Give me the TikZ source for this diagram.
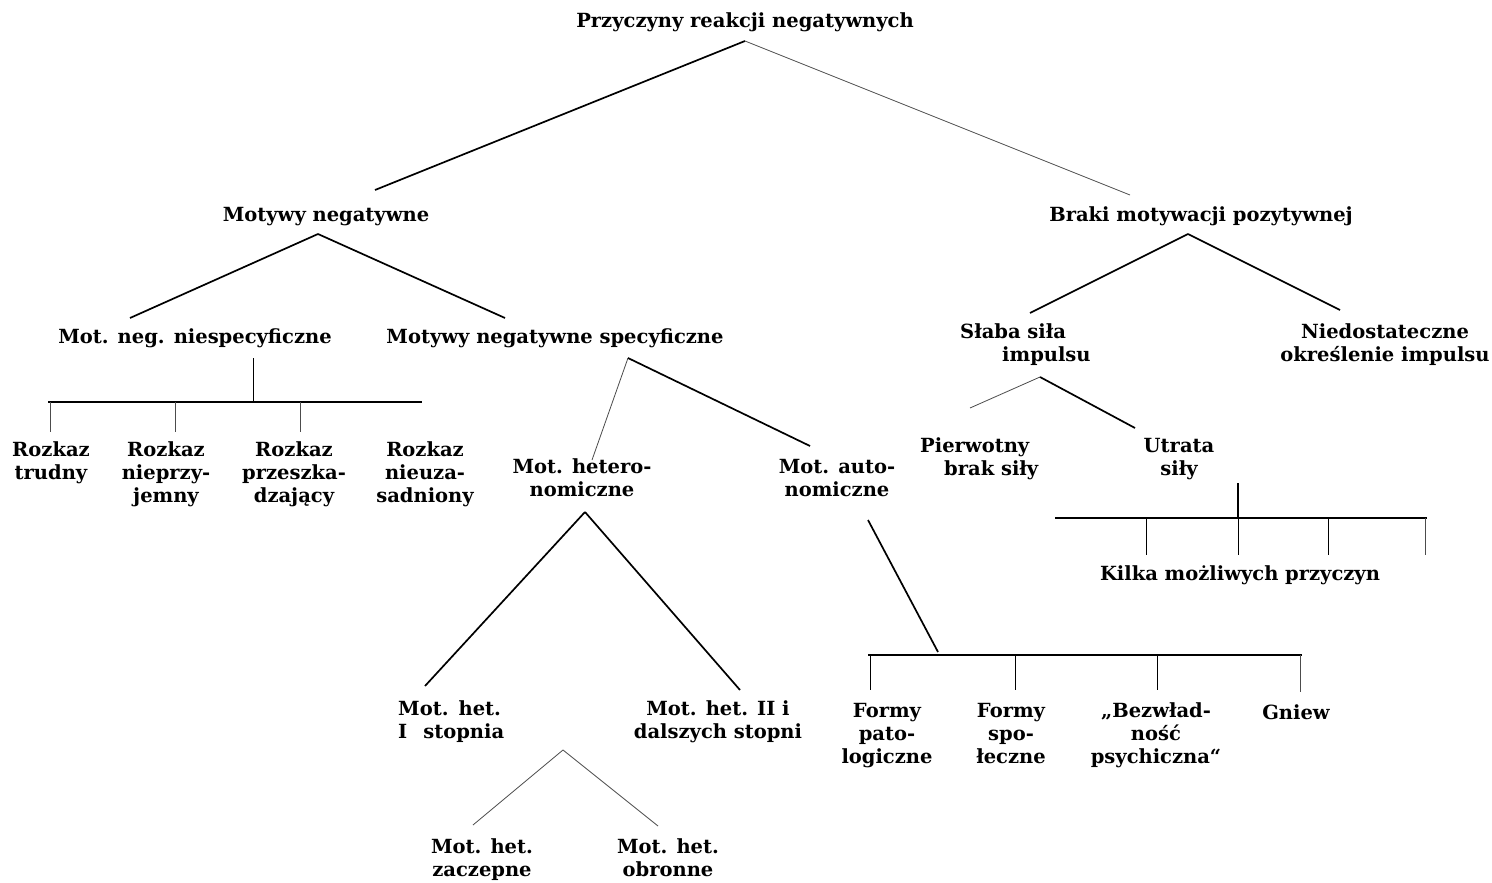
\documentclass[tikz,border=0pt]{standalone}
\usepackage{fontspec}
\setmainfont{DejaVu Serif}
\begin{document}
\begin{tikzpicture}[x=1pt,y=-1pt,
  lbl/.style={font=\bfseries\fontsize{19.5}{23}\selectfont, align=center, inner sep=0pt,
    anchor=north, yshift=16.1pt, execute at begin node=\strut},
  lbll/.style={lbl, align=left, anchor=north west},
  br/.style={line width=1.7pt},
  brt/.style={line width=0.8pt, draw=black!70},
  tick/.style={line width=1pt}]
\useasboundingbox (0,0) rectangle (1492,883);
\fill[white] (0,0) rectangle (1492,883);
% texts (positioned at first-line baseline)
\node[lbl] (root) at (745,27) {Przyczyny reakcji negatywnych};
\node[lbl] (mn) at (326,221) {Motywy negatywne};
\node[lbl] (bm) at (1201,221) {Braki motywacji pozytywnej};
\node[lbl] (mnn) at (195,343) {Mot. neg. niespecyficzne};
\node[lbl] (mns) at (555,343) {Motywy negatywne specyficzne};
\node[lbl] (r1) at (51,458) {Rozkaz\\trudny};
\node[lbl] (r2) at (166,458) {Rozkaz\\nieprzy-\\jemny};
\node[lbl] (r3) at (294,458) {Rozkaz\\przeszka-\\dzający};
\node[lbl] (r4) at (425,458) {Rozkaz\\nieuza-\\sadniony};
\node[lbl] (mh) at (582,475) {Mot. hetero-\\nomiczne};
\node[lbl] (ma) at (837,475) {Mot. auto-\\nomiczne};
\node[lbll] (mh1) at (398,717) {Mot.\hspace{10pt}het.\\I\hspace{16pt}stopnia};
\node[lbl] (mh2) at (718,717) {Mot. het. II i\\dalszych stopni};
\node[lbl] (mhz) at (482,855) {Mot. het.\\zaczepne};
\node[lbl] (mho) at (668,855) {Mot. het.\\obronne};
\node[lbl] (f1) at (887,719) {Formy\\pato-\\logiczne};
\node[lbl] (f2) at (1011,719) {Formy\\spo-\\łeczne};
\node[lbl] (f3) at (1156,719) {„Bezwład-\\ność\\psychiczna“};
\node[lbl] (f4) at (1296,719) {Gniew};
\node[lbll] (ss) at (960,340) {Słaba siła\\\hspace*{42pt}impulsu};
\node[lbl] (nd) at (1385,340) {Niedostateczne\\określenie impulsu};
\node[lbll] (pb) at (920,454) {Pierwotny\\\hspace*{24pt}brak siły};
\node[lbl] (us) at (1179,454) {Utrata\\siły};
\node[lbl] (kp) at (1240,580) {Kilka możliwych przyczyn};
% connector end points
\coordinate (root-s) at (745,41);
\coordinate (mn-n) at (375,190);
\coordinate (bm-n) at (1130,195);
\coordinate (mn-s) at (318,234);
\coordinate (mnn-n) at (130,318);
\coordinate (mns-n) at (505,318);
\coordinate (mnn-s) at (253,358);
\coordinate (mnn-j) at (253,402);
\coordinate (rl) at (48,402);
\coordinate (rr) at (422,402);
\coordinate (r1-n) at (50,432);
\coordinate (r2-n) at (175,432);
\coordinate (r3-n) at (300,432);
\coordinate (mns-s) at (628,358);
\coordinate (mh-n) at (592,460);
\coordinate (ma-n) at (810,446);
\coordinate (mh-s) at (585,512);
\coordinate (mh1-n) at (425,686);
\coordinate (mh2-n) at (740,690);
\coordinate (mh1-s) at (563,750);
\coordinate (mhz-n) at (473,825);
\coordinate (mho-n) at (658,826);
\coordinate (ma-s) at (868,520);
\coordinate (ma-j) at (938,652);
\coordinate (fl) at (868,655);
\coordinate (fr) at (1302,655);
\coordinate (f1-n) at (870,690);
\coordinate (f2-n) at (1015,690);
\coordinate (f3-n) at (1157,690);
\coordinate (f4-n) at (1300,692);
\coordinate (bm-s) at (1188,234);
\coordinate (ss-n) at (1030,313);
\coordinate (nd-n) at (1340,310);
\coordinate (ss-s) at (1040,377);
\coordinate (pb-n) at (970,408);
\coordinate (us-n) at (1135,428);
\coordinate (us-s) at (1238,483);
\coordinate (us-j) at (1238,518);
\coordinate (kl) at (1055,518);
\coordinate (kr) at (1427,518);
\coordinate (k1) at (1146,555);
\coordinate (k2) at (1238,555);
\coordinate (k3) at (1328,555);
\coordinate (k4) at (1425,555);
% connectors
\draw[br] (root-s) -- (mn-n);
\draw[brt] (root-s) -- (bm-n);
\draw[br] (mn-s) -- (mnn-n);
\draw[br] (mn-s) -- (mns-n);
\draw[tick] (mnn-s) -- (mnn-j);
\draw[br] (rl) -- (rr);
\draw[brt] (r1-n |- rl) -- (r1-n);
\draw[brt] (r2-n |- rl) -- (r2-n);
\draw[brt] (r3-n |- rl) -- (r3-n);
\draw[brt] (mns-s) -- (mh-n);
\draw[br] (mns-s) -- (ma-n);
\draw[br] (mh-s) -- (mh1-n);
\draw[br] (mh-s) -- (mh2-n);
\draw[brt] (mh1-s) -- (mhz-n);
\draw[brt] (mh1-s) -- (mho-n);
\draw[br] (ma-s) -- (ma-j);
\draw[br] (fl) -- (fr);
\draw[tick] (f1-n |- fl) -- (f1-n);
\draw[tick] (f2-n |- fl) -- (f2-n);
\draw[tick] (f3-n |- fl) -- (f3-n);
\draw[brt] (f4-n |- fl) -- (f4-n);
\draw[br] (bm-s) -- (ss-n);
\draw[br] (bm-s) -- (nd-n);
\draw[brt] (ss-s) -- (pb-n);
\draw[br] (ss-s) -- (us-n);
\draw[br] (us-s) -- (us-j);
\draw[br] (kl) -- (kr);
\draw[tick] (k1 |- kl) -- (k1);
\draw[tick] (k2 |- kl) -- (k2);
\draw[tick] (k3 |- kl) -- (k3);
\draw[brt] (k4 |- kl) -- (k4);
\end{tikzpicture}
\end{document}
